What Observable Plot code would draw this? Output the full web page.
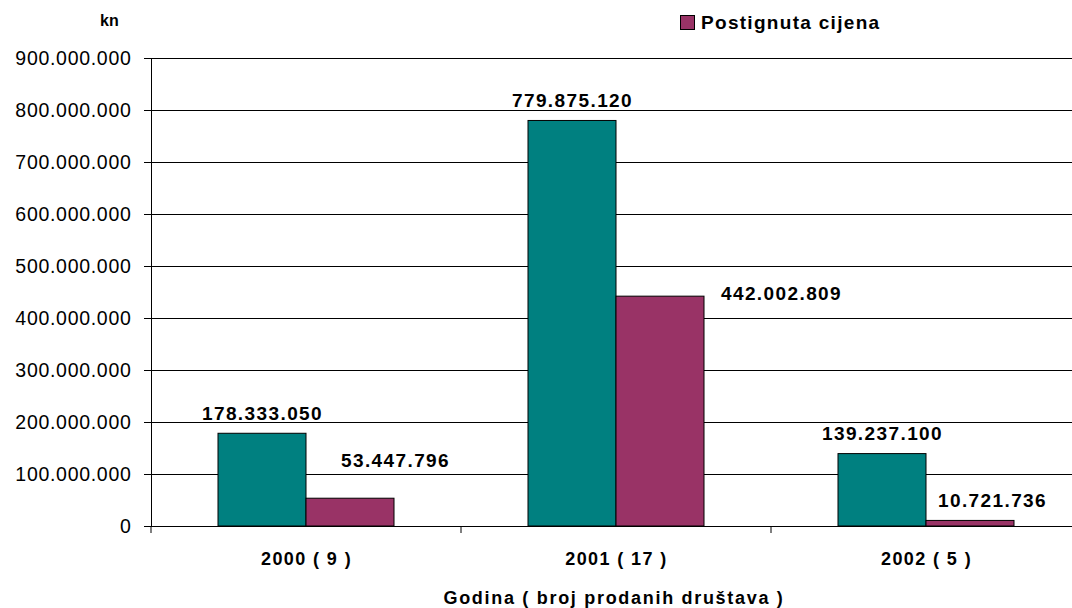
<!DOCTYPE html>
<html>
<head>
<meta charset="utf-8">
<script src="https://cdn.jsdelivr.net/npm/d3@7"></script>
<script src="https://cdn.jsdelivr.net/npm/@observablehq/plot@0.6"></script>
<style>
  html, body { margin: 0; padding: 0; background: #fff; }
  #wrap { position: relative; width: 1072px; height: 608px; font-family: Arial, "Liberation Sans", sans-serif; color: #000; overflow: hidden; }
  #chart { position: absolute; left: 0; top: 0; }
  #chart svg text { letter-spacing: 0.7px; }
  #chart svg g[font-weight="bold"] text { letter-spacing: 1.4px; }
  .ov { position: absolute; font-weight: bold; white-space: nowrap; line-height: 1; }
  #kn { left: 100px; top: 13px; font-size: 16px; }
  #legend { left: 680px; top: 13px; font-size: 19px; letter-spacing: 1.3px; display: flex; align-items: center; }
  #legend .sw { width: 13px; height: 13px; border: 1px solid #000; margin-right: 6px; }
  #xtitle { left: 0; width: 1228px; text-align: center; top: 589px; font-size: 18px; letter-spacing: 1.7px; }
</style>
</head>
<body>
<div id="wrap">
  <div id="chart"></div>
  <div id="kn" class="ov">kn</div>
  <div id="legend" class="ov"></div>
  <div id="xtitle" class="ov"></div>
</div>
<script>
// ---- data ----
const years = ["2000 ( 9 )", "2001 ( 17 )", "2002 ( 5 )"];
const seriesNames = ["Procijenjena vrijednost", "Postignuta cijena"];
const valuesFirst = [178333050, 779875120, 139237100];
const valuesSecond = [53447796, 442002809, 10721736];
const yTicks = [0, 100000000, 200000000, 300000000, 400000000, 500000000, 600000000, 700000000, 800000000, 900000000];
const seriesColors = ["#008080", "#993366"];
const legendSeries = [seriesNames[1]];
const xTitle = "Godina ( broj prodanih društava )";

const rows = years.flatMap((y, i) => [
  {year: y, series: seriesNames[0], value: valuesFirst[i]},
  {year: y, series: seriesNames[1], value: valuesSecond[i]}
]);

const locale = d3.formatLocale({decimal: ",", thousands: ".", grouping: [3], currency: ["", ""]});
const fmt = locale.format(",");

// boundary tick below the baseline at each category's left edge (rendered per facet)
function boundaryTick(index, scales, values, dims) {
  const ns = "http://www.w3.org/2000/svg";
  const line = document.createElementNS(ns, "line");
  const x = dims.marginLeft;
  const y = dims.height - dims.marginBottom;
  line.setAttribute("x1", x); line.setAttribute("x2", x);
  line.setAttribute("y1", y); line.setAttribute("y2", y + 7);
  line.setAttribute("stroke", "black");
  return line;
}

const labelStyle = {fontSize: 19, fontWeight: "bold", fill: "black"};
const isS = (k) => (d) => d.series === seriesNames[k];
const at = (yi, k) => (d) => d.year === years[yi] && d.series === seriesNames[k];

const chart = Plot.plot({
  width: 1072,
  height: 608,
  marginTop: 58,
  marginBottom: 82,
  marginLeft: 150,
  marginRight: -9.5,
  style: {fontFamily: "Arial, 'Liberation Sans', sans-serif", fontSize: "19px", color: "black", background: "white"},
  fx: {domain: years, padding: 0},
  x: {domain: seriesNames, paddingInner: 0, paddingOuter: 0.754, axis: null},
  y: {domain: [0, 900000000]},
  color: {domain: seriesNames, range: seriesColors},
  marks: [
    Plot.gridY({ticks: yTicks, stroke: "black", strokeOpacity: 1}),
    Plot.axisY({ticks: yTicks, tickFormat: fmt, tickSize: 7, tickPadding: 13, fontSize: 19.5, label: null, stroke: "black"}),
    Plot.axisFx({anchor: "bottom", tickSize: 0, tickPadding: 26, fontSize: 18, fontWeight: "bold", label: null}),
    Plot.frame({anchor: "left", facetAnchor: "left", stroke: "black"}),
    boundaryTick,
    Plot.barY(rows, {fx: "year", x: "series", y: "value", fill: "series", stroke: "black", strokeWidth: 1}),
    Plot.text(rows, {filter: isS(0), fx: "year", x: "series", y: "value", text: (d) => fmt(d.value), dy: -20, ...labelStyle}),
    Plot.text(rows, {filter: at(0, 1), fx: "year", x: "series", y: "value", text: (d) => fmt(d.value), dx: 45, dy: -38, ...labelStyle}),
    Plot.text(rows, {filter: at(1, 1), fx: "year", x: "series", y: "value", text: (d) => fmt(d.value), dx: 121, dy: -3, ...labelStyle}),
    Plot.text(rows, {filter: at(2, 1), fx: "year", x: "series", y: "value", text: (d) => fmt(d.value), dx: 22, dy: -20, ...labelStyle})
  ]
});
document.getElementById("chart").appendChild(chart);

// legend
const legend = document.getElementById("legend");
legendSeries.forEach((s) => {
  const sw = document.createElement("span");
  sw.className = "sw";
  sw.style.background = seriesColors[seriesNames.indexOf(s)];
  const t = document.createElement("span");
  t.textContent = s;
  legend.appendChild(sw);
  legend.appendChild(t);
});
document.getElementById("xtitle").textContent = xTitle;
</script>
</body>
</html>
